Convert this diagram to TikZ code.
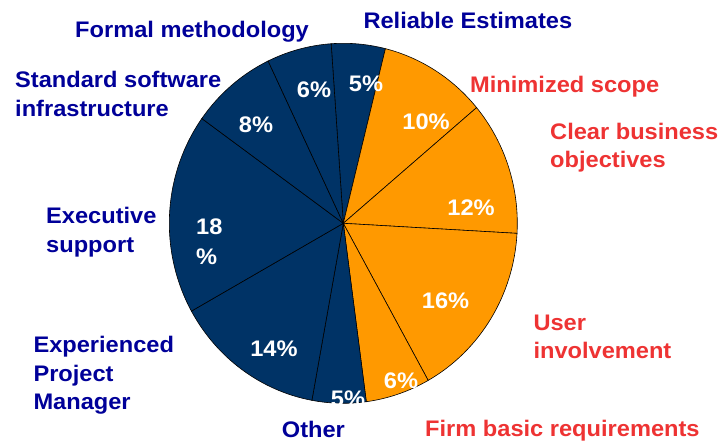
\documentclass[tikz,border=0pt]{standalone}
\usepackage{fontspec}
\setmainfont{Liberation Sans}[FakeStretch=1.05]
\usetikzlibrary{calc}
\definecolor{navy}{HTML}{003366}
\definecolor{orng}{HTML}{FF9900}
\definecolor{lblue}{HTML}{000099}
\definecolor{lred}{HTML}{EE3333}
\newcommand\pieslice[3]{%
  \filldraw[slice, fill=#3] (C) -- ($(C)+({174*cos(#1)},{180*sin(#1)})$)
    arc[start angle=#1, end angle=#2, x radius=174, y radius=180] -- cycle;}
\begin{document}
\begin{tikzpicture}[x=1pt,y=1pt,
  lab/.style={font=\fontsize{22.5}{28.5}\selectfont\bfseries, inner sep=0pt, align=left, anchor=base west},
  bluelab/.style={lab, text=lblue},
  redlab/.style={lab, text=lred},
  pct/.style={font=\fontsize{22.5}{30}\selectfont\bfseries, text=white, inner sep=0pt, anchor=base},
  slice/.style={draw=black, line width=0.6pt}]
\useasboundingbox (0,0) rectangle (722,442);
\fill[white] (0,0) rectangle (722,442);
\coordinate (C) at (343.3,218.7);
% slices (clockwise from 94 deg)
\pieslice{94}{76}{navy}
\pieslice{76}{40}{orng}
\pieslice{40}{-3.2}{orng}
\pieslice{-3.2}{-60.8}{orng}
\pieslice{-60.8}{-82.4}{orng}
\pieslice{-82.4}{-100.4}{navy}
\pieslice{-100.4}{-150.8}{navy}
\pieslice{-150.8}{-215.6}{navy}
\pieslice{-215.6}{-244.4}{navy}
\pieslice{-244.4}{-266}{navy}
% outer labels (base = baseline of last line)
\node[bluelab] (formal) at (75,404.5) {Formal methodology};
\node[bluelab] (reliable) at (363.3,413) {Reliable Estimates};
\node[redlab] (scope) at (470,349) {Minimized scope};
\node[redlab] (clear) at (550,274) {Clear business\\objectives};
\node[bluelab] (standard) at (15,325.5) {Standard software\\infrastructure};
\node[bluelab] (exec) at (46,189.5) {Executive\\support};
\node[bluelab] (exper) at (33.3,32.5) {Experienced\\Project\\Manager};
\node[bluelab] (other) at (281.7,4.5) {Other};
\node[redlab] (firm) at (425,6) {Firm basic requirements};
\node[redlab] (user) at (533.3,83.5) {User\\involvement};
% percentages
\node[pct] (p1) at (366,350.5) {5\%};
\node[pct] (p2) at (426,312) {10\%};
\node[pct] (p3) at (471,226.5) {12\%};
\node[pct] (p4) at (445.5,134) {16\%};
\node[pct] (p5) at (401,54) {6\%};
\node[pct] (p6) at (348,35.5) {5\%};
\node[pct] (p7) at (274,85.5) {14\%};
\node[pct, anchor=base west, align=left] (p8) at (196,177) {18\\\%};
\node[pct] (p9) at (256,309) {8\%};
\node[pct] (p10) at (314,344) {6\%};
\end{tikzpicture}
\end{document}
